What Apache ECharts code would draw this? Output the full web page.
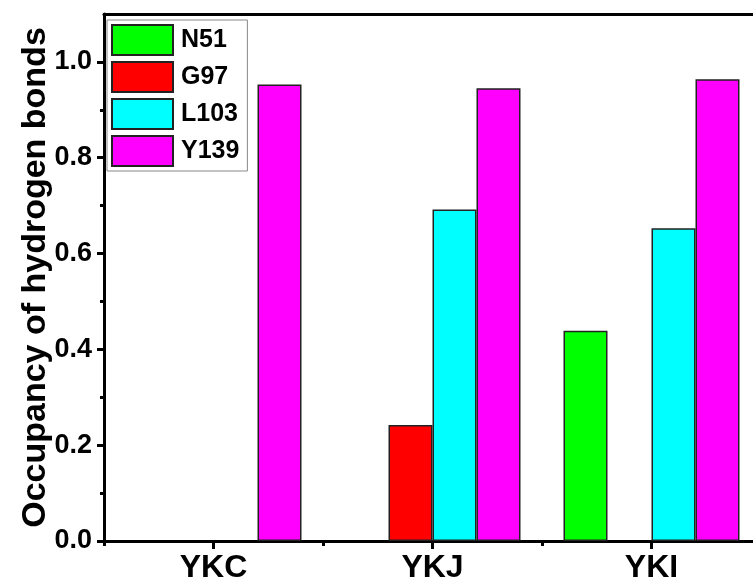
<!DOCTYPE html>
<html>
<head>
<meta charset="utf-8">
<script src="https://cdn.jsdelivr.net/npm/echarts@6/dist/echarts.min.js"></script>
<style>
  html, body { margin: 0; padding: 0; background: #fff; }
  #chart { width: 753px; height: 588px; }
</style>
</head>
<body>
<div id="chart"></div>
<script>
// Hydrogen-bond occupancy per residue for each complex
const categories = ['YKC', 'YKJ', 'YKI'];
const residues = ['N51', 'G97', 'L103', 'Y139'];
const n51 = [null, null, 0.439];
const g97 = [null, 0.242, null];
const l103 = [null, 0.692, 0.653];
const y139 = [0.953, 0.945, 0.964];
const yMajorTicks = [0, 0.2, 0.4, 0.6, 0.8, 1.0];
const yMinorTicks = [0.1, 0.3, 0.5, 0.7, 0.9];

const colors = ['#00ff00', '#ff0000', '#00ffff', '#ff00ff'];
const seriesValues = [n51, g97, l103, y139];

const fontFamily = '"Liberation Sans", Arial, sans-serif';
const axisColor = '#000';

const chart = echarts.init(document.getElementById('chart'), null, { renderer: 'canvas' });

// the plot frame runs past the right edge of the canvas
const gridBox = { left: 104, top: 14, right: -8, bottom: 47 };

chart.setOption({
  backgroundColor: '#fff',
  animation: false,
  grid: Object.assign({ containLabel: false, outerBoundsMode: 'none' }, gridBox),
  legend: {
    orient: 'vertical',
    left: 107,
    top: 20,
    padding: [4, 8, 4, 4],
    itemWidth: 61,
    itemHeight: 30,
    itemGap: 5,
    icon: 'rect',
    borderColor: '#888',
    borderWidth: 1,
    backgroundColor: '#fff',
    data: residues,
    textStyle: {
      fontFamily: fontFamily,
      fontWeight: 'bold',
      fontSize: 25,
      color: '#000',
      padding: [0, 0, 0, 3]
    }
  },
  xAxis: [
    {
      type: 'category',
      data: categories,
      position: 'bottom',
      axisLine: { show: true, lineStyle: { color: axisColor, width: 3 } },
      axisTick: { show: true, alignWithLabel: true, inside: false, length: 8, lineStyle: { color: axisColor, width: 3 } },
      axisLabel: {
        margin: 11,
        fontFamily: fontFamily,
        fontWeight: 'bold',
        fontSize: 32,
        color: '#000'
      },
      splitLine: { show: false }
    },
    {
      // boundary ticks between groups
      type: 'category',
      data: categories,
      position: 'bottom',
      axisLine: { show: false },
      axisTick: { show: true, length: 5, lineStyle: { color: axisColor, width: 3 } },
      axisLabel: { show: false },
      splitLine: { show: false }
    },
    {
      // frame line along the top
      type: 'category',
      data: categories,
      position: 'top',
      axisLine: { show: true, lineStyle: { color: axisColor, width: 3 } },
      axisTick: { show: false },
      axisLabel: { show: false },
      splitLine: { show: false }
    }
  ],
  yAxis: [
    {
      type: 'value',
      min: 0,
      max: 1.1,
      interval: 0.2,
      position: 'left',
      name: 'Occupancy of hydrogen bonds',
      nameLocation: 'middle',
      nameGap: 51,
      nameMoveOverlap: false,
      nameRotate: 90,
      nameTextStyle: {
        fontFamily: fontFamily,
        fontWeight: 'bold',
        fontSize: 34,
        color: '#000'
      },
      axisLine: { show: true, onZero: false, lineStyle: { color: axisColor, width: 3 } },
      axisTick: {
        show: true,
        length: 7,
        customValues: yMajorTicks,
        lineStyle: { color: axisColor, width: 3 }
      },
      axisLabel: {
        margin: 12,
        customValues: yMajorTicks,
        formatter: v => v.toFixed(1),
        fontFamily: fontFamily,
        fontWeight: 'bold',
        fontSize: 27,
        color: '#000'
      },
      splitLine: { show: false }
    },
    {
      // minor ticks halfway between labelled values
      type: 'value',
      min: 0,
      max: 1.1,
      position: 'left',
      axisLine: { show: false },
      axisTick: {
        show: true,
        length: 4,
        customValues: yMinorTicks,
        lineStyle: { color: axisColor, width: 3 }
      },
      axisLabel: { show: false },
      splitLine: { show: false }
    }
  ],
  series: residues.map((name, i) => ({
    name: name,
    type: 'bar',
    xAxisIndex: 0,
    yAxisIndex: 0,
    data: seriesValues[i],
    barWidth: 44,
    barGap: '0%',
    itemStyle: {
      color: colors[i],
      borderColor: '#222',
      borderWidth: 1.5
    }
  }))
});
</script>
</body>
</html>
